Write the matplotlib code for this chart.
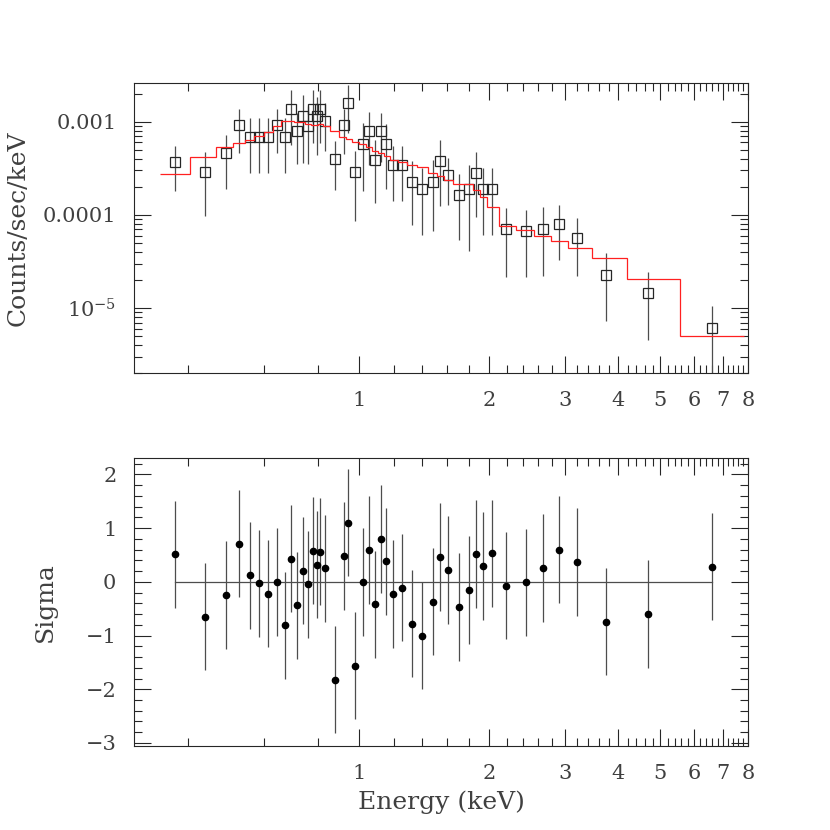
import numpy as np
import matplotlib
matplotlib.use('Agg')
import matplotlib.pyplot as plt
from matplotlib.ticker import FixedLocator, FixedFormatter, MultipleLocator, NullFormatter

# channel centres (keV)
energy = [0.373, 0.4385, 0.490, 0.526, 0.5557, 0.584, 0.614, 0.643, 0.672, 0.694,
          0.716, 0.738, 0.759, 0.781, 0.795, 0.811, 0.833, 0.877, 0.920, 0.943,
          0.979, 1.022, 1.051, 1.089, 1.125, 1.153, 1.199, 1.256, 1.323, 1.400,
          1.483, 1.539, 1.606, 1.701, 1.797, 1.868, 1.940, 2.029, 2.190, 2.433,
          2.673, 2.911, 3.212, 3.750, 4.693, 6.606]

# data, counts/sec/keV
counts = [3.67e-4, 2.87e-4, 4.58e-4, 9.15e-4, 6.91e-4, 6.91e-4, 6.91e-4, 9.15e-4, 6.91e-4, 1.38e-3,
          8.01e-4, 1.15e-3, 9.06e-4, 1.38e-3, 1.14e-3, 1.38e-3, 1.03e-3, 4.01e-4, 9.15e-4, 1.60e-3,
          2.87e-4, 5.72e-4, 8.01e-4, 3.85e-4, 8.01e-4, 5.72e-4, 3.46e-4, 3.46e-4, 2.28e-4, 1.91e-4,
          2.28e-4, 3.82e-4, 2.68e-4, 1.64e-4, 1.91e-4, 2.84e-4, 1.91e-4, 1.91e-4, 7.08e-5, 6.74e-5,
          7.13e-5, 8.07e-5, 5.71e-5, 2.29e-5, 1.46e-5, 6.19e-6]

counts_err = [1.86e-4, 1.9e-4, 2.7e-4, 4.5e-4, 4.1e-4, 4.1e-4, 4.1e-4, 4.5e-4, 4.1e-4, 8.2e-4,
              4.5e-4, 7.9e-4, 5.5e-4, 7.9e-4, 7.0e-4, 7.9e-4, 5.5e-4, 2.17e-4, 4.6e-4, 8.5e-4,
              2.0e-4, 3.9e-4, 4.6e-4, 2.5e-4, 4.3e-4, 3.8e-4, 2.05e-4, 2.05e-4, 1.5e-4, 1.3e-4,
              1.6e-4, 2.58e-4, 1.4e-4, 1.1e-4, 1.5e-4, 1.9e-4, 1.3e-4, 1.3e-4, 4.9e-5, 4.6e-5,
              4.9e-5, 4.8e-5, 3.5e-5, 1.57e-5, 1.0e-5, 4.3e-6]

# folded model per channel
model = [2.75e-4, 4.19e-4, 5.31e-4, 5.91e-4, 6.31e-4, 7.0e-4, 7.81e-4, 9.06e-4, 1.03e-3, 1.02e-3,
         1.0e-3, 9.85e-4, 9.4e-4, 9.2e-4, 9.15e-4, 9.4e-4, 8.9e-4, 8.0e-4, 6.91e-4, 6.48e-4,
         6.06e-4, 5.8e-4, 5.3e-4, 4.89e-4, 4.58e-4, 4.29e-4, 3.93e-4, 3.69e-4, 3.45e-4, 3.24e-4,
         2.85e-4, 2.64e-4, 2.37e-4, 2.17e-4, 2.13e-4, 1.85e-4, 1.56e-4, 1.21e-4, 7.57e-5, 6.86e-5,
         5.91e-5, 5.23e-5, 4.46e-5, 3.44e-5, 2.06e-5, 5.08e-6]

# residuals in sigma
sigma = [0.51, -0.65, -0.25, 0.71, 0.12, -0.03, -0.22, 0.0, -0.81, 0.43,
         -0.44, 0.21, -0.05, 0.58, 0.32, 0.56, 0.25, -1.82, 0.48, 1.10,
         -1.56, 0.0, 0.59, -0.42, 0.80, 0.38, -0.23, -0.11, -0.78, -1.0,
         -0.37, 0.46, 0.22, -0.47, -0.15, 0.52, 0.29, 0.53, -0.07, -0.01,
         0.26, 0.60, 0.37, -0.74, -0.60, 0.28]

xmajor = [1, 2, 3, 4, 5, 6, 7, 8]
xmajor_labels = ['1', '2', '3', '4', '5', '6', '7', '8']
ymajor = [1e-5, 1e-4, 1e-3]
ymajor_labels = [r'$10^{-5}$', '0.0001', '0.001']

plt.rcParams['font.family'] = ['DejaVu Serif']
plt.rcParams['mathtext.fontset'] = 'dejavuserif'
plt.rcParams['axes.unicode_minus'] = True

# channel boundaries halfway (in log) between centres
log_e = np.log10(energy)
mid = (log_e[1:] + log_e[:-1]) / 2
edges = np.concatenate([[2 * log_e[0] - mid[0]], mid, [2 * log_e[-1] - mid[-1]]])
edges = 10 ** edges

xminor = [v for v in np.arange(0.4, 8.0, 0.2) if abs(v - round(v)) > 1e-6]

fig = plt.figure(figsize=(8.3, 8.3), dpi=100)
ax1 = fig.add_axes([0.1620, 0.5502, 0.7392, 0.3494])
ax2 = fig.add_axes([0.1620, 0.1016, 0.7392, 0.3470])

TXT = '0.25'


def style_axis(ax):
    ax.set_xscale('log')
    ax.set_xlim(0.3, 8.0)
    ax.xaxis.set_major_locator(FixedLocator(xmajor))
    ax.xaxis.set_major_formatter(FixedFormatter(xmajor_labels))
    ax.xaxis.set_minor_locator(FixedLocator(xminor))
    ax.xaxis.set_minor_formatter(NullFormatter())
    ax.tick_params(which='both', direction='in', top=True, right=True,
                   color='0.15', width=0.8, labelsize=15, labelcolor=TXT)
    ax.tick_params(which='major', length=12, pad=13)
    ax.tick_params(which='minor', length=6)
    for s in ax.spines.values():
        s.set_linewidth(0.8)
        s.set_color('0.15')


# top: spectrum
ax1.stairs(model, edges, baseline=None, color='#ff2020', lw=0.9, zorder=3)
ax1.errorbar(energy, counts, yerr=counts_err, fmt='s', ms=7, mfc='none', mec='0.15',
             mew=0.9, ecolor='0.3', elinewidth=0.9, capsize=0, zorder=2)
ax1.set_yscale('log')
style_axis(ax1)
ax1.set_ylim(2.0e-6, 2.58e-3)
ax1.yaxis.set_major_locator(FixedLocator(ymajor))
ax1.yaxis.set_major_formatter(FixedFormatter(ymajor_labels))
ax1.set_ylabel('Counts/sec/keV', fontsize=18, color=TXT, va='center')
ax1.yaxis.set_label_coords(-0.19, 0.5)

# bottom: residuals
ax2.plot([energy[0], energy[-1]], [0, 0], color='0.3', lw=0.9)
ax2.errorbar(energy, sigma, yerr=1.0, fmt='o', ms=4.5, color='black',
             ecolor='0.3', elinewidth=0.9, capsize=0)
style_axis(ax2)
ax2.set_ylim(-3.05, 2.31)
ax2.yaxis.set_major_locator(MultipleLocator(1))
ax2.yaxis.set_minor_locator(MultipleLocator(0.2))
ax2.set_ylabel('Sigma', fontsize=18, color=TXT, va='center')
ax2.yaxis.set_label_coords(-0.145, 0.5)
ax2.set_xlabel('Energy (keV)', fontsize=18, color=TXT)
ax2.xaxis.set_label_coords(0.5, -0.155)

fig.savefig('out.png', dpi=100)
